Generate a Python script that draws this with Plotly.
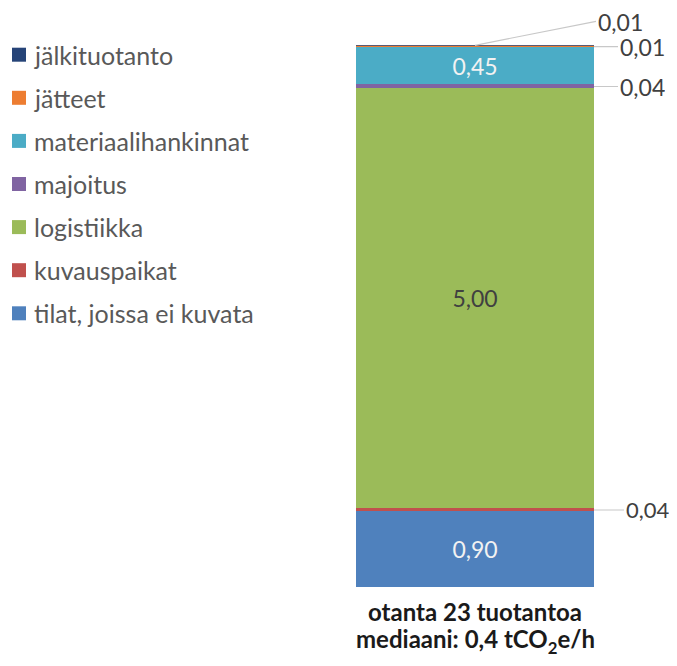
import plotly.graph_objects as go

# stacked from the bottom up
categories = ["tilat, joissa ei kuvata", "kuvauspaikat", "logistiikka", "majoitus",
              "materiaalihankinnat", "jätteet", "jälkituotanto"]
values = [0.90, 0.04, 5.00, 0.04, 0.45, 0.01, 0.01]
colors = ["#4F81BD", "#C0504D", "#9BBB59", "#8064A2", "#4BACC6", "#ED7D31", "#264478"]
label_colors = ["#F2F2F2", "#404040", "#404040", "#404040", "#F2F2F2", "#404040", "#404040"]
bar_name = "otanta 23 tuotantoa"
bar_caption = ["otanta 23 tuotantoa", "mediaani: 0,4 tCO<sub>2</sub>e/h"]

# page body adds an 8px margin, so work in window pixels and subtract it
OFF = 8
W, H = 677 - OFF, 666 - 2 * OFF
FONT = "Lato"
total = sum(values)


def px_x(x):
    return (x - OFF) / W


def px_y(y):
    return 1 - (y - OFF) / H


fig = go.Figure()
for i, (cat, val) in enumerate(zip(categories, values)):
    big = val >= 0.1
    fig.add_trace(go.Bar(
        x=[bar_name], y=[val], name=cat, marker_color=colors[i],
        marker_line_width=0, showlegend=False,
        texttemplate="%{y:.2f}",
        textposition="inside" if big else "none", insidetextanchor="middle",
        textfont=dict(color=label_colors[i], size=23, family=FONT),
    ))

# leader-line labels for the thin segments
cum = 0
bases = []
for v in values:
    bases.append(cum)
    cum += v

line_col = "#C8C8C8"
small = [
    # (index, x in bar domain, y position, ax, ay, font size)
    (6, 0.5, total, 121, -24, 23),
    (5, 1.0, bases[5] + values[5] / 2, 24, 0, 23),
    (3, 1.0, bases[3] + values[3] / 2, 24, 0, 23),
    (1, 1.0, bases[1] + values[1] / 2, 30, 0, 22),
]
for idx, xd, yv, ax, ay, fs in small:
    fig.add_annotation(
        xref="x domain", yref="y", x=xd, y=yv,
        text=f"{values[idx]:.2f}".replace(".", ","),
        showarrow=True, arrowhead=0, arrowwidth=1.2, arrowcolor=line_col,
        ax=ax, ay=ay, xanchor="left", yanchor="middle", height=25,
        font=dict(size=fs, color="#404040", family=FONT),
    )

# caption under the bar
for k, line in enumerate(bar_caption):
    fig.add_annotation(
        xref="x domain", yref="paper", x=0.5, y=px_y(611 + 30 * k),
        text=f"<b>{line}</b>", showarrow=False, xanchor="center", yanchor="middle",
        height=30, font=dict(size=24, color="#1A1A1A", family=FONT),
    )

# legend, top to bottom from the top of the stack
for k, i in enumerate(reversed(range(len(categories)))):
    yc = 54.7 + 43.1 * k
    fig.add_shape(type="rect", xref="paper", yref="paper",
                  x0=px_x(12), x1=px_x(26), y0=px_y(yc - 7), y1=px_y(yc + 7),
                  fillcolor=colors[i], line_width=0)
    fig.add_annotation(xref="paper", yref="paper", x=px_x(32), y=px_y(yc),
                       text=categories[i], showarrow=False,
                       xanchor="left", yanchor="middle",
                       font=dict(size=25, color="#595959", family=FONT))

fig.update_layout(
    width=W, height=H,
    barmode="stack", bargap=0,
    separators=", ",
    paper_bgcolor="white", plot_bgcolor="white",
    margin=dict(l=0, r=0, t=0, b=0),
    font=dict(family=FONT, color="#595959", size=23),
    xaxis=dict(domain=[px_x(356), px_x(594)], showgrid=False,
               showline=False, ticks="", showticklabels=False),
    yaxis=dict(domain=[px_y(587.3), px_y(45.3)], range=[0, total], visible=False),
    showlegend=False,
)

fig.write_html("out.html")
